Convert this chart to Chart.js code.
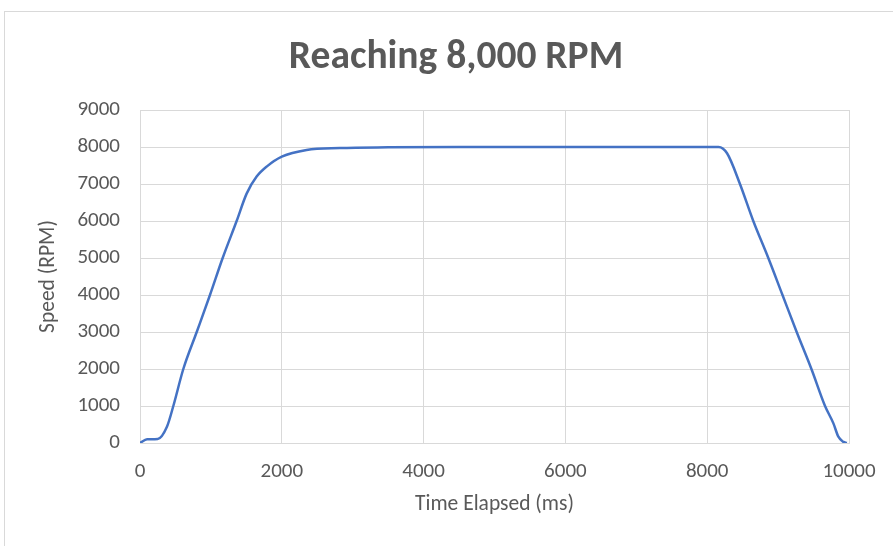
<!DOCTYPE html>
<html>
<head>
<meta charset="utf-8">
<title>Reaching 8,000 RPM</title>
<script src="https://cdn.jsdelivr.net/npm/chart.js@4.4.1/dist/chart.umd.min.js"></script>
<style>
  html, body { margin: 0; padding: 0; background: #fff; }
  #frame {
    position: absolute; left: 4px; top: 11px; right: -2px; bottom: -2px;
    border-left: 1px solid #d9d9d9; border-top: 1px solid #d9d9d9;
  }
  #speedChart { position: absolute; left: 0; top: 0; }
</style>
</head>
<body>
<div id="frame"></div>
<canvas id="speedChart" width="893" height="546"></canvas>
<script>
// motor run: spin up, hold at 8000 rpm, spin down
var timeMs = [0, 100, 250, 380, 470, 611, 800, 987, 1166, 1363, 1504, 1645, 1786, 2000,
  2350, 2820, 3500, 4500, 6000, 8000, 8160, 8280, 8462, 8650, 8862, 9062, 9262, 9470,
  9662, 9780, 9850, 9920, 9970];
var speedRpm = [0, 100, 110, 440, 1000, 2000, 3000, 4000, 5000, 6000, 6740, 7200, 7470, 7740,
  7920, 7970, 7990, 8000, 8000, 8000, 8000, 7830, 7000, 6000, 5000, 4000, 3000, 2000,
  1000, 530, 170, 30, 0];

var xRange = [0, 10000, 2000];   // min, max, step
var yRange = [0, 9000, 1000];

var points = timeMs.map(function (t, i) { return { x: t, y: speedRpm[i] }; });

var grey = '#595959';
var gridGrey = '#d9d9d9';
var fam = "Carlito, 'Open Sans', sans-serif";
var plain = function (v) { return String(v); };   // no thousands separator

// center the title over the whole frame, not just the padded layout box
var titleSpan = {
  id: 'titleSpan',
  afterLayout: function (chart) {
    if (chart.titleBlock) {
      chart.titleBlock.left = 0;
      chart.titleBlock.right = 912;
    }
  }
};

new Chart(document.getElementById('speedChart'), {
  type: 'line',
  data: {
    datasets: [{
      label: 'Speed',
      data: points,
      borderColor: '#4472C4',
      borderWidth: 2.5,
      pointRadius: 0,
      fill: false,
      cubicInterpolationMode: 'monotone'
    }]
  },
  options: {
    responsive: false,
    animation: false,
    layout: { padding: { left: 0, right: 44, top: 0, bottom: 0 } },
    plugins: {
      legend: { display: false },
      tooltip: { enabled: false },
      title: {
        display: true,
        text: 'Reaching 8,000 RPM',
        color: grey,
        font: { family: fam, size: 39.5, weight: 'bold' },
        padding: { top: 34, bottom: 28.6 }
      }
    },
    scales: {
      x: {
        type: 'linear',
        min: xRange[0], max: xRange[1],
        ticks: { stepSize: xRange[2], color: grey, padding: 16, callback: plain,
          font: { family: fam, size: 21 } },
        grid: { color: gridGrey, drawTicks: false },
        border: { color: gridGrey },
        title: {
          display: true, text: 'Time Elapsed (ms)', color: grey,
          font: { family: fam, size: 21.5 }, padding: { top: 0, bottom: 28 }
        },
        afterFit: function (s) { s.height = 103; }
      },
      y: {
        min: yRange[0], max: yRange[1],
        ticks: { stepSize: yRange[2], color: grey, padding: 20, callback: plain,
          font: { family: fam, size: 21 } },
        grid: { color: gridGrey, drawTicks: false },
        border: { color: gridGrey },
        title: {
          display: true, text: 'Speed (RPM)', color: grey,
          font: { family: fam, size: 21.5 }, padding: { top: 36, bottom: 0 }
        },
        afterFit: function (s) { s.width = 140; }
      }
    }
  },
  plugins: [titleSpan]
});
</script>
</body>
</html>
